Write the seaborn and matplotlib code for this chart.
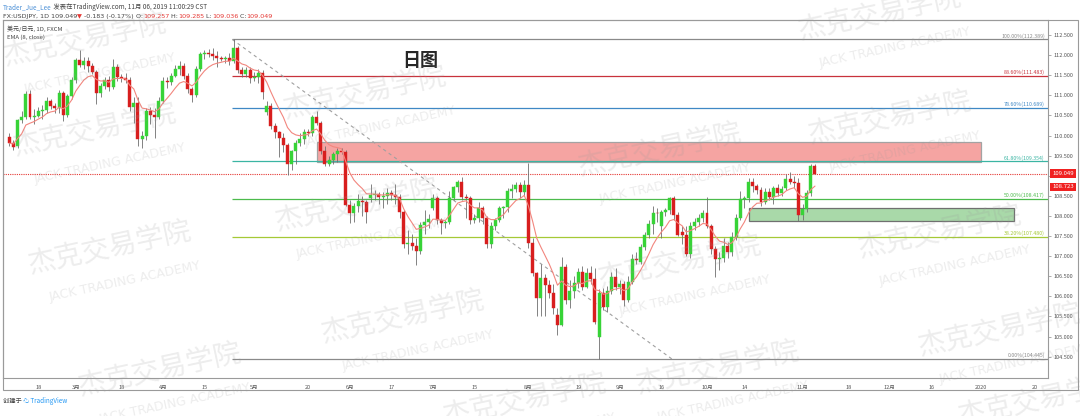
import numpy as np
import pandas as pd
import matplotlib
matplotlib.use("Agg")
import matplotlib.pyplot as plt
import seaborn as sns
from matplotlib.patches import Rectangle

# USD/JPY daily candles, 2019-02-07 .. 2019-11-06 (one row of the list per week)
open_ = [
    109.96, 109.81,
    109.74, 110.38, 110.47, 111.02, 110.47,
    110.49, 110.62, 110.64, 110.85, 110.73,
    110.68, 111.05, 110.52, 110.98, 111.38,
    111.88, 111.76, 111.86, 111.74, 111.58,
    111.06, 111.22, 111.38, 111.20, 111.70,
    111.46, 111.42, 111.38, 110.70, 110.82,
    109.92, 109.98, 110.60, 110.52, 110.46,
    110.86, 111.35, 111.33, 111.48, 111.66,
    111.72, 111.48, 111.15, 111.00, 111.65,
    112.02, 112.05, 112.03, 111.98, 111.92,
    111.90, 111.94, 111.85, 112.18, 111.62,
    111.52, 111.64, 111.42, 111.46, 111.55,
    110.58, 110.74, 110.24, 110.08, 109.93,
    109.76, 109.30, 109.62, 109.82, 109.92,
    110.08, 110.06, 110.46, 110.30, 109.62,
    109.30, 109.40, 109.55, 109.62, 109.58,
    108.27, 108.07, 108.25, 108.38, 108.34,
    108.44, 108.52, 108.54, 108.46, 108.50,
    108.56, 108.52, 108.46, 108.10, 107.30,
    107.32, 107.26, 107.12, 107.78, 107.84,
    108.20, 108.45, 107.90, 107.82, 107.86,
    108.45, 108.72, 108.85, 108.48, 108.44,
    107.90, 107.96, 108.20, 107.95, 107.30,
    107.74, 107.90, 108.20, 108.23, 108.62,
    108.66, 108.78, 108.60, 108.78, 107.33,
    106.57, 105.95, 106.45, 106.28, 106.07,
    105.54, 105.29, 106.74, 105.91, 106.12,
    106.32, 106.61, 106.24, 106.59, 106.43,
    104.99, 106.07, 105.74, 106.12, 106.49,
    106.24, 106.30, 105.92, 106.36, 106.94,
    106.85, 107.23, 107.52, 107.80, 108.08,
    107.75, 108.10, 108.14, 108.44, 108.02,
    107.60, 107.52, 107.05, 107.75, 107.86,
    107.94, 108.06, 107.75, 107.17, 106.92,
    106.95, 107.25, 107.10, 107.47, 107.95,
    108.41, 108.44, 108.85, 108.75, 108.64,
    108.35, 108.60, 108.48, 108.69, 108.58,
    108.70, 108.93, 108.85, 108.81, 108.02,
    108.16, 108.58, 109.23,
]
high = [
    110.05, 109.90,
    110.42, 110.60, 111.10, 111.12, 110.65,
    110.70, 110.75, 110.95, 110.92, 110.80,
    111.14, 111.10, 111.02, 111.45, 111.92,
    112.12, 111.95, 111.95, 111.80, 111.62,
    111.30, 111.45, 111.48, 111.90, 111.78,
    111.52, 111.55, 111.45, 110.95, 110.95,
    110.10, 110.68, 110.70, 110.68, 110.96,
    111.45, 111.45, 111.55, 111.75, 111.85,
    111.80, 111.55, 111.20, 111.72, 112.08,
    112.12, 112.16, 112.17, 112.10, 111.98,
    111.97, 112.05, 112.40, 112.22, 111.70,
    111.70, 111.70, 111.58, 111.65, 111.62,
    110.85, 110.80, 110.30, 110.12, 110.05,
    109.82, 109.65, 109.88, 110.05, 110.15,
    110.15, 110.50, 110.62, 110.35, 109.75,
    109.50, 109.60, 109.70, 109.70, 109.65,
    108.40, 108.32, 108.55, 108.50, 108.40,
    108.80, 108.65, 108.60, 108.60, 108.70,
    108.65, 108.80, 108.55, 108.15, 107.65,
    107.55, 107.45, 107.85, 108.15, 108.05,
    108.55, 108.50, 107.95, 107.90, 108.62,
    108.75, 108.90, 108.98, 108.55, 108.50,
    108.05, 108.35, 108.25, 108.00, 107.85,
    107.95, 108.25, 108.25, 108.70, 108.80,
    108.85, 108.85, 108.90, 109.32, 107.45,
    106.60, 106.80, 106.55, 106.40, 106.30,
    105.70, 106.98, 106.80, 106.40, 106.50,
    106.70, 106.75, 106.70, 106.75, 106.70,
    106.18, 106.20, 106.25, 106.60, 106.70,
    106.40, 106.38, 106.50, 107.05, 107.10,
    107.30, 107.60, 107.90, 108.25, 108.20,
    108.15, 108.20, 108.48, 108.50, 108.10,
    107.75, 107.75, 107.85, 107.95, 108.05,
    108.15, 108.48, 107.80, 107.25, 107.10,
    107.45, 107.35, 107.60, 108.05, 108.62,
    108.50, 108.95, 108.95, 108.80, 108.72,
    108.70, 108.70, 108.75, 108.80, 108.75,
    109.05, 109.08, 109.00, 108.95, 108.30,
    108.65, 109.28, 109.28,
]
low = [
    109.74, 109.64,
    109.70, 110.30, 110.40, 110.40, 110.28,
    110.45, 110.40, 110.55, 110.65, 110.55,
    110.55, 110.36, 110.45, 110.90, 111.30,
    111.70, 111.65, 111.58, 111.52, 110.78,
    110.95, 111.15, 111.10, 111.15, 111.35,
    111.33, 111.30, 110.60, 110.30, 109.75,
    109.70, 109.90, 110.28, 109.95, 110.40,
    110.80, 111.18, 111.25, 111.45, 111.50,
    111.40, 111.05, 110.84, 110.95, 111.60,
    111.90, 111.95, 111.88, 111.70, 111.85,
    111.80, 111.75, 111.80, 111.55, 111.45,
    111.45, 111.30, 111.35, 111.30, 110.90,
    110.50, 110.15, 109.95, 109.47, 109.60,
    109.02, 109.15, 109.30, 109.75, 109.80,
    109.98, 110.00, 110.25, 109.55, 109.25,
    109.25, 109.30, 109.35, 109.55, 108.25,
    107.82, 107.85, 108.10, 108.00, 107.82,
    108.35, 108.40, 108.30, 108.20, 108.30,
    108.40, 108.30, 107.95, 107.20, 107.05,
    107.15, 106.78, 107.05, 107.55, 107.70,
    108.15, 107.80, 107.55, 107.70, 107.80,
    108.40, 108.60, 108.40, 107.95, 107.80,
    107.82, 107.85, 107.80, 107.20, 107.20,
    107.65, 107.85, 107.95, 108.10, 108.45,
    108.60, 108.45, 108.50, 107.20, 106.50,
    105.52, 105.50, 105.50, 105.95, 105.55,
    105.05, 105.25, 105.80, 105.70, 105.95,
    106.20, 106.15, 106.20, 106.30, 105.30,
    104.45, 105.65, 105.60, 106.05, 106.15,
    106.05, 105.75, 105.85, 106.30, 106.80,
    106.80, 107.15, 107.45, 107.55, 107.85,
    107.45, 108.00, 108.05, 107.90, 107.50,
    107.30, 107.00, 106.95, 107.65, 107.75,
    107.85, 107.70, 107.05, 106.48, 106.65,
    106.85, 106.95, 107.00, 107.40, 107.90,
    108.20, 108.35, 108.60, 108.55, 108.25,
    108.30, 108.40, 108.30, 108.50, 108.50,
    108.65, 108.80, 108.70, 107.88, 107.90,
    108.10, 108.50, 109.03,
]
close = [
    109.81, 109.72,
    110.38, 110.47, 111.02, 110.47, 110.49,
    110.62, 110.64, 110.85, 110.73, 110.68,
    111.05, 110.52, 110.98, 111.38, 111.88,
    111.76, 111.86, 111.74, 111.58, 111.06,
    111.22, 111.38, 111.20, 111.70, 111.46,
    111.42, 111.38, 110.70, 110.82, 109.92,
    109.98, 110.60, 110.52, 110.46, 110.86,
    111.35, 111.33, 111.48, 111.66, 111.72,
    111.48, 111.15, 111.00, 111.65, 112.02,
    112.05, 112.03, 111.98, 111.92, 111.90,
    111.94, 111.85, 112.18, 111.62, 111.52,
    111.64, 111.42, 111.46, 111.55, 111.08,
    110.74, 110.24, 110.08, 109.93, 109.76,
    109.30, 109.62, 109.82, 109.92, 110.08,
    110.06, 110.46, 110.30, 109.62, 109.30,
    109.40, 109.55, 109.62, 109.58, 108.27,
    108.07, 108.25, 108.38, 108.34, 108.10,
    108.52, 108.54, 108.46, 108.50, 108.56,
    108.52, 108.46, 108.10, 107.30, 107.32,
    107.26, 107.12, 107.78, 107.84, 107.92,
    108.45, 107.90, 107.82, 107.86, 108.45,
    108.72, 108.85, 108.48, 108.44, 107.90,
    107.96, 108.20, 107.95, 107.30, 107.74,
    107.90, 108.20, 108.23, 108.62, 108.66,
    108.78, 108.60, 108.78, 107.33, 106.57,
    105.95, 106.45, 106.28, 106.07, 105.70,
    105.29, 106.74, 105.91, 106.12, 106.32,
    106.61, 106.24, 106.59, 106.43, 105.37,
    106.07, 105.74, 106.12, 106.49, 106.24,
    106.30, 105.92, 106.36, 106.94, 106.90,
    107.23, 107.52, 107.80, 108.08, 108.06,
    108.10, 108.14, 108.44, 108.02, 107.52,
    107.52, 107.05, 107.75, 107.86, 107.94,
    108.06, 107.75, 107.17, 106.92, 106.95,
    107.25, 107.10, 107.47, 107.95, 108.41,
    108.44, 108.85, 108.75, 108.64, 108.35,
    108.60, 108.48, 108.69, 108.58, 108.66,
    108.93, 108.85, 108.81, 108.02, 108.16,
    108.58, 109.23, 109.049,
]
first_day = "2019-02-07"
future_days = 56

# x axis ticks (Mondays mid-month, first trading day of each month)
tick_dates = ["2019-02-18", "2019-03-01", "2019-03-18", "2019-04-01", "2019-04-15",
              "2019-05-01", "2019-05-20", "2019-06-03", "2019-06-17", "2019-07-01",
              "2019-07-15", "2019-08-01", "2019-08-19", "2019-09-02", "2019-09-16",
              "2019-10-01", "2019-10-14", "2019-11-01", "2019-11-18", "2019-12-02",
              "2019-12-16", "2020-01-01", "2020-01-20"]
tick_labels = ["18", "3月", "18", "4月", "15", "5月", "20", "6月", "17", "7月", "15",
               "8月", "19", "9月", "16", "10月", "14", "11月", "18", "12月", "16",
               "2020", "20"]
price_ticks = [104.5, 105.0, 105.5, 106.0, 106.5, 107.0, 107.5, 108.0, 108.5,
               109.0, 109.5, 110.0, 110.5, 111.0, 111.5, 112.0, 112.5]

# fibonacci retracement drawn from the April high to the August low
fib_high = 112.389
fib_low = 104.445
fib_ratios = [1.0, 0.886, 0.786, 0.618, 0.5, 0.382, 0.0]
fib_start = "2019-04-24"
fib_end = "2019-09-18"

# marked zones: start date, end date, bottom price, top price
supply_zone = ["2019-05-22", "2020-01-01", 109.34, 109.83]
demand_zone = ["2019-10-15", "2020-01-13", 107.87, 108.20]
last_price = 109.049
ema_last = 108.723

# ---------------------------------------------------------------
sns.set_style("white")
plt.rcParams["font.family"] = ["Noto Sans CJK SC", "DejaVu Sans"]
plt.rcParams["axes.unicode_minus"] = False

GREEN = "#37d337"
RED = "#d81e1e"
WICK = "#6e6e6e"
FRAME = "#9a9a9a"
DARK = "#444444"
fib_colors = ["#8a8a8a", "#c8323c", "#3f88c5", "#3bb5a3", "#4cbb4c", "#a5c936", "#8a8a8a"]

dates = pd.bdate_range(first_day, periods=len(close) + future_days)
df = pd.DataFrame({"open": open_, "high": high, "low": low, "close": close})
df["i"] = np.arange(len(df))
df["ema"] = df["close"].ewm(span=8, adjust=False).mean()


def day(d):
    return dates.get_loc(pd.Timestamp(d))


W, H = 1080, 416
fig = plt.figure(figsize=(W / 100, H / 100), dpi=100)


def box(x0, y0, x1, y1):
    return [x0 / W, 1 - y1 / H, (x1 - x0) / W, (y1 - y0) / H]


ax = fig.add_axes(box(3, 20, 1048, 378))
ax.set_xlim(-1.5, 250.1)
ax.set_ylim(103.968, 112.873)

# zones
for zone, fc, ec in [(supply_zone, "#f5a4a2", "#a3a3a3"), (demand_zone, "#a9d9a9", "#707070")]:
    x0, x1 = day(zone[0]), day(zone[1])
    ax.add_patch(Rectangle((x0, zone[2]), x1 - x0, zone[3] - zone[2],
                           fc=fc, ec=ec, lw=0.9, zorder=1))

# fibonacci levels
fx0, fx1 = day(fib_start) - 0.3, day(fib_end) + 0.5
for r, col in zip(fib_ratios, fib_colors):
    lvl = fib_low + r * (fib_high - fib_low)
    ax.hlines(lvl, fx0, 250.1, color=col, lw=0.9, zorder=1.5)
    ax.text(0.997, lvl + 0.02, f"{r * 100:.2f}%({lvl:.3f})", transform=ax.get_yaxis_transform(),
            ha="right", va="bottom", fontsize=3.8, color=col, zorder=6)
ax.plot([fx0, fx1], [fib_high, fib_low], color="#a0a0a0", lw=0.8, ls=(0, (3, 3)), zorder=1.5)

# last price line
ax.axhline(last_price, color="#e53935", lw=0.8, ls=(0, (1, 1)), zorder=1.6)

# candles
up = df["close"] >= df["open"]
colors = np.where(up, GREEN, RED)
ax.vlines(df["i"], df["low"], df["high"], color=WICK, lw=0.6, zorder=2)
ax.bar(df["i"], df["close"] - df["open"], bottom=df["open"], width=0.72,
       color=colors, edgecolor=colors, linewidth=0.3, zorder=3)

sns.lineplot(x=df["i"], y=df["ema"], ax=ax, color="#f2867e", lw=0.8, zorder=4, legend=False)
ax.set_xlabel("")
ax.set_ylabel("")

# axes styling
for s in ax.spines.values():
    s.set_color(FRAME)
    s.set_linewidth(0.8)
ax.yaxis.tick_right()
ax.set_yticks(price_ticks)
ax.set_yticklabels([f"{v:.3f}" for v in price_ticks])
ax.set_xticks([day(d) for d in tick_dates])
ax.set_xticklabels(tick_labels)
ax.tick_params(axis="both", length=2, width=0.5, color="#888888", labelsize=4,
               labelcolor="#555555", pad=2)
ax.tick_params(axis="x", pad=3)

# price labels on the scale
for val in [last_price, ema_last]:
    ax.text(1.004, val, f"{val:.3f}", transform=ax.get_yaxis_transform(), ha="left",
            va="center", fontsize=4.3, color="white", clip_on=False, zorder=10,
            bbox=dict(boxstyle="square,pad=0.3", fc="#f02121", ec="none"))

# outer frame incl. price and time scales
fig.patches.append(Rectangle((3 / W, 1 - 390 / H), 1075 / W, 370 / H, transform=fig.transFigure,
                             fill=False, ec=FRAME, lw=0.8))

# title and legends
fig.text(420 / W, 1 - 60 / H, "日图", fontsize=13, fontweight="bold", ha="center", va="center")
ax.text(0.004, 0.976, "美元/日元, 1D, FXCM", transform=ax.transAxes, fontsize=4.3,
        color=DARK, va="center", zorder=6)
ax.text(0.004, 0.951, "EMA (8, close)", transform=ax.transAxes, fontsize=4.3,
        color=DARK, va="center", zorder=6)


def header(x, y, parts, size=4.6, family=None):
    fam = family or plt.rcParams["font.family"]
    prev = fig.text(x / W, 1 - y / H, parts[0][0], color=parts[0][1], fontsize=size,
                    va="baseline", family=fam)
    for txt, col in parts[1:]:
        prev = ax.annotate(txt, xy=(1, 0), xycoords=prev, va="bottom", ha="left",
                           color=col, fontsize=size, family=fam, annotation_clip=False)


header(3, 9, [("Trader_Jue_Lee", "#4a8fd6"),
              (" 发表在TradingView.com, 11月 06, 2019 11:00:29 CST", DARK)])
header(3, 18, [("FX:USDJPY, 1D 109.049", DARK), ("▼", "#e53935"), (" -0.183 (-0.17%)", DARK),
               (" O:", DARK), ("109.257", "#e53935"), (" H:", DARK), ("109.285", "#e53935"),
               (" L:", DARK), ("109.036", "#e53935"), (" C:", DARK), ("109.049", "#e53935")],
       family=["DejaVu Sans"])
header(3, 403, [("创建于 ", DARK), ("☁", "#2196f3"), (" TradingView", "#2196f3")], size=4.5)

# watermarks
wm_spots = [(85, 40), (95, 130), (110, 248), (160, 370), (365, 93), (357, 205), (403, 317),
            (525, 400), (660, 150), (680, 262), (718, 368), (880, 14), (890, 118),
            (940, 232), (1000, 330), (1040, 400)]
for x, y in wm_spots:
    fig.text(x / W, 1 - y / H, "杰克交易学院", fontsize=20, color="#9a9a9a", alpha=0.18,
             rotation=12, ha="center", va="center", rotation_mode="anchor", zorder=20)
    fig.text((x + 15) / W, 1 - (y + 34) / H, "JACK TRADING ACADEMY", fontsize=9,
             color="#9a9a9a", alpha=0.18, rotation=12, ha="center", va="center",
             rotation_mode="anchor", zorder=20, family=["DejaVu Sans"])

fig.savefig("out.png", dpi=100)
